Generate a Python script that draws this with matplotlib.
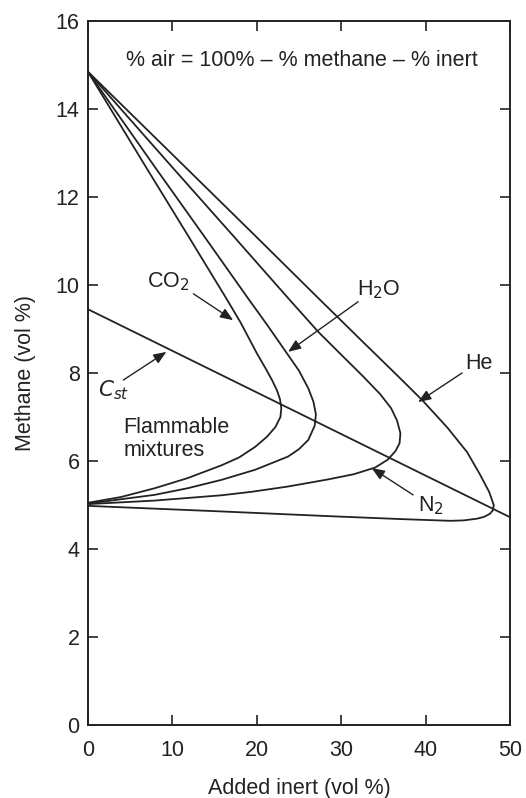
import matplotlib
matplotlib.use("Agg")
import matplotlib.pyplot as plt

plt.rcParams.update({"font.family": ["Liberation Sans", "DejaVu Sans"],
                     "font.size": 15.5})

INK = "#222222"

# flammability envelopes: (added inert %, methane %)
# traced from the UFL at x=0 round the nose and back to the LFL at x=0
CO2_X = [0.0, 7.1, 11.8, 16.5, 18.1, 20.0, 21.2, 21.8, 22.4, 22.75, 22.9,
         22.8, 22.2, 21.2, 19.8, 17.9, 15.8, 11.8, 7.9, 3.9, 0.0]
CO2_Y = [14.85, 12.61, 11.14, 9.66, 9.14, 8.45, 8.05, 7.84, 7.6, 7.4, 7.2,
         7.0, 6.77, 6.55, 6.32, 6.08, 5.9, 5.61, 5.38, 5.18, 5.05]

H2O_X = [0.0, 8.2, 13.65, 19.1, 21.2, 23.3, 25.0, 26.1, 26.7, 27.0, 26.85,
         26.1, 25.0, 23.7, 19.8, 15.8, 11.8, 7.9, 3.9, 0.0]
H2O_Y = [14.85, 12.61, 11.14, 9.66, 9.1, 8.52, 8.05, 7.65, 7.35, 7.06, 6.8,
         6.48, 6.27, 6.1, 5.8, 5.57, 5.38, 5.23, 5.13, 5.03]

N2_X = [0.0, 10.3, 17.1, 23.9, 27.3, 30.6, 32.6, 34.6, 35.9, 36.6, 37.0,
        36.9, 36.4, 35.5, 34.0, 31.5, 28.4, 23.7, 19.4, 15.8, 7.9, 0.0]
N2_Y = [14.85, 12.61, 11.14, 9.66, 8.93, 8.3, 7.92, 7.52, 7.2, 6.92, 6.63,
        6.4, 6.22, 6.03, 5.85, 5.7, 5.58, 5.42, 5.3, 5.22, 5.1, 5.02]

HE_X = [0.0, 11.9, 19.7, 27.5, 32.7, 36.6, 39.6, 42.6, 44.9, 46.4, 47.5,
        48.05, 47.95, 47.6, 46.9, 46.1, 44.5, 42.9, 37.0, 29.3, 15.0, 0.0]
HE_Y = [14.85, 12.61, 11.14, 9.66, 8.68, 7.95, 7.38, 6.75, 6.2, 5.7, 5.3,
        5.0, 4.88, 4.8, 4.73, 4.69, 4.65, 4.64, 4.68, 4.74, 4.86, 4.98]

# stoichiometric line
CST_X = [0.0, 50.0]
CST_Y = [9.45, 4.72]

XTICKS = [0, 10, 20, 30, 40, 50]
YTICKS = [0, 2, 4, 6, 8, 10, 12, 14, 16]

fig = plt.figure(figsize=(5.26, 7.98), dpi=100)
ax = fig.add_axes([0.167, 0.0915, 0.803, 0.8822])

for xs, ys in [(CO2_X, CO2_Y), (H2O_X, H2O_Y), (N2_X, N2_Y), (HE_X, HE_Y),
               (CST_X, CST_Y)]:
    ax.plot(xs, ys, color=INK, lw=1.3, solid_joinstyle="round")

ax.set_xlim(0, 50)
ax.set_ylim(0, 16)
ax.set_xticks(XTICKS)
ax.set_yticks(YTICKS)
ax.tick_params(direction="in", length=7, width=1.2, top=True, right=True,
               labelsize=15.5, colors=INK)
ax.tick_params(axis="x", pad=11)
ax.tick_params(axis="y", pad=6)
for s in ax.spines.values():
    s.set_linewidth(1.4)
    s.set_color(INK)

ax.set_xlabel("Added inert (vol %)", color=INK, labelpad=12)
ax.set_ylabel("Methane (vol %)", color=INK, labelpad=14)

ax.text(25.3, 15.1, "% air = 100% \u2013 % methane \u2013 % inert",
        ha="center", va="center", color=INK)
ax.text(4.2, 6.5, "Flammable\nmixtures", ha="left", va="center",
        color=INK, linespacing=1.1)

arrow = dict(arrowstyle="-|>,head_length=0.5,head_width=0.2", color=INK,
             lw=1.0, shrinkA=0, shrinkB=0)
labels = [
    ("CO$_2$", (9.5, 10.07), (12.5, 9.8), (17.2, 9.2)),
    ("H$_2$O", (34.4, 9.9), (32.0, 9.62), (23.7, 8.48)),
    ("He", (46.3, 8.22), (44.3, 8.0), (39.1, 7.34)),
    ("N$_2$", (40.6, 4.98), (38.5, 5.23), (33.6, 5.84)),
    ("$C_{st}$", (3.0, 7.62), (4.2, 7.84), (9.3, 8.48)),
]
for txt, tpos, start, tip in labels:
    ax.text(tpos[0], tpos[1], txt, ha="center", va="center", color=INK)
    ax.annotate("", xy=tip, xytext=start, arrowprops=arrow)

fig.savefig("out.png", dpi=100)
